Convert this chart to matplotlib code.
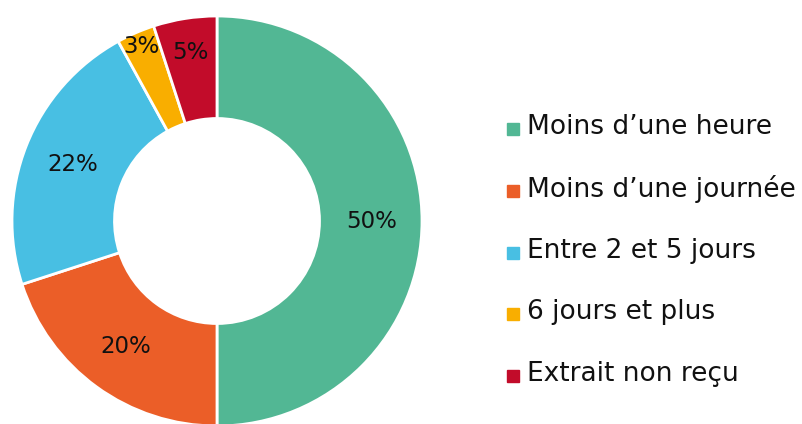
import matplotlib.pyplot as plt
import numpy as np

categories = ["Moins d\u2019une heure", "Moins d\u2019une journ\u00e9e", "Entre 2 et 5 jours",
              "6 jours et plus", "Extrait non re\u00e7u"]
values = [50, 20, 22, 3, 5]
colors = ["#52B794", "#EB5E28", "#48BFE3", "#F9AE00", "#C20C2A"]

# distance des étiquettes (fraction du rayon)
label_dist = [0.755, 0.755, 0.755, 0.93, 0.83]

plt.rcParams["font.family"] = ["DejaVu Sans"]

fig = plt.figure(figsize=(8.02, 4.24), dpi=100)
W, H = 802, 424
cx, cy, R = 217, 221, 205
ax = fig.add_axes([(cx - R) / W, (H - cy - R) / H, 2 * R / W, 2 * R / H])

wedges, _ = ax.pie(values, colors=colors, startangle=90, counterclock=False,
                   radius=1.0, wedgeprops=dict(width=0.5, edgecolor="white", linewidth=2))
ax.set_xlim(-1, 1)
ax.set_ylim(-1, 1)
ax.set_aspect("equal")
ax.axis("off")

total = sum(values)
start = 90.0
for v, d in zip(values, label_dist):
    span = 360.0 * v / total
    mid = np.deg2rad(start - span / 2)
    ax.text(d * np.cos(mid), d * np.sin(mid), f"{v}%", ha="center", va="center",
            fontsize=16.5, color="#111111")
    start -= span

# légende
for i, (c, lab) in enumerate(zip(colors, categories)):
    y = 127 + i * 61.8
    fig.patches.append(plt.Rectangle((507 / W, 1 - (y + 8) / H), 12 / W, 12 / H,
                                     transform=fig.transFigure, color=c))
    fig.text(527 / W, 1 - y / H, lab, ha="left", va="center", fontsize=19, color="#111111")

fig.savefig("out.png", dpi=100)
